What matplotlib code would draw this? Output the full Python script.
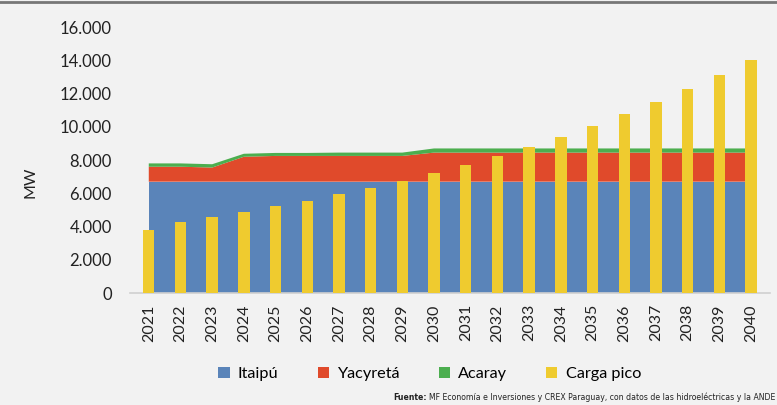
import numpy as np
import matplotlib.pyplot as plt

plt.rcParams['font.family'] = ['Lato', 'DejaVu Sans']

years = [str(y) for y in range(2021, 2041)]
itaipu = [6700] * 20
yacyreta = [900, 900, 850, 1500, 1550, 1550, 1550, 1550, 1550, 1750,
            1750, 1750, 1750, 1750, 1750, 1750, 1750, 1750, 1750, 1750]
acaray = [200, 200, 200, 180, 180, 180, 200, 200, 200, 250,
          250, 250, 250, 250, 250, 250, 250, 250, 250, 250]
carga_pico = [3790, 4270, 4550, 4870, 5210, 5550, 5930, 6330, 6750, 7200,
              7700, 8250, 8800, 9400, 10050, 10750, 11500, 12270, 13100, 14000]

bg = '#f2f2f2'
c_ita = '#5a84b9'
c_yac = '#e04a2b'
c_aca = '#4cae4f'
c_car = '#efcb2f'

fig = plt.figure(figsize=(7.77, 4.05), dpi=100, facecolor=bg)
ax = fig.add_axes([0.167, 0.2765, 0.824, 0.6565])
ax.set_facecolor(bg)

x = np.arange(len(years))
ax.stackplot(x, itaipu, yacyreta, acaray, colors=[c_ita, c_yac, c_aca],
             labels=['Itaipú', 'Yacyretá', 'Acaray'], linewidth=0)
ax.bar(x, carga_pico, width=0.36, color=c_car, label='Carga pico', zorder=3)

ax.set_xlim(-0.6, 19.6)
ax.set_ylim(0, 16000)
ax.set_yticks(np.arange(0, 16001, 2000))
ax.set_yticklabels(['0' if v == 0 else f'{v // 1000}.000' for v in range(0, 16001, 2000)],
                   fontsize=12, color='#222222')
ax.set_xticks(x)
ax.set_xticklabels(years, rotation=90, fontsize=11.5, color='#222222')
ax.tick_params(axis='both', length=0)
ax.tick_params(axis='y', pad=13)
ax.tick_params(axis='x', pad=8)
for s in ['top', 'right', 'left']:
    ax.spines[s].set_visible(False)
ax.spines['bottom'].set_color('#d0d0d0')
ax.spines['bottom'].set_linewidth(1.2)
ax.set_ylabel('MW', fontsize=11.5, color='#222222')
ax.yaxis.set_label_coords(-0.144, 0.415)

handles, labels = ax.get_legend_handles_labels()
fig.legend(handles, labels, loc='center', bbox_to_anchor=(0.553, 0.077), ncol=4,
           frameon=False, fontsize=11.7, handlelength=0.7, handleheight=0.7,
           handletextpad=0.5, columnspacing=2.4)

# source line: regular part right-aligned, bold "Fuente:" just before it
src = fig.text(0.998, 0.018,
               'MF Economía e Inversiones y CREX Paraguay, con datos de las hidroeléctricas y la ANDE',
               ha='right', va='center', fontsize=5.6, color='#222222', family='DejaVu Sans')
fig.canvas.draw()
bb = src.get_window_extent()
fig.text((bb.x0 - 2) / fig.bbox.width, 0.018, 'Fuente:', ha='right', va='center',
         fontsize=5.6, fontweight='bold', color='#222222', family='DejaVu Sans')

fig.add_artist(plt.Line2D([0, 1], [0.994, 0.994], color='#777777', lw=2))

fig.savefig('out.png', dpi=100, facecolor=bg)
